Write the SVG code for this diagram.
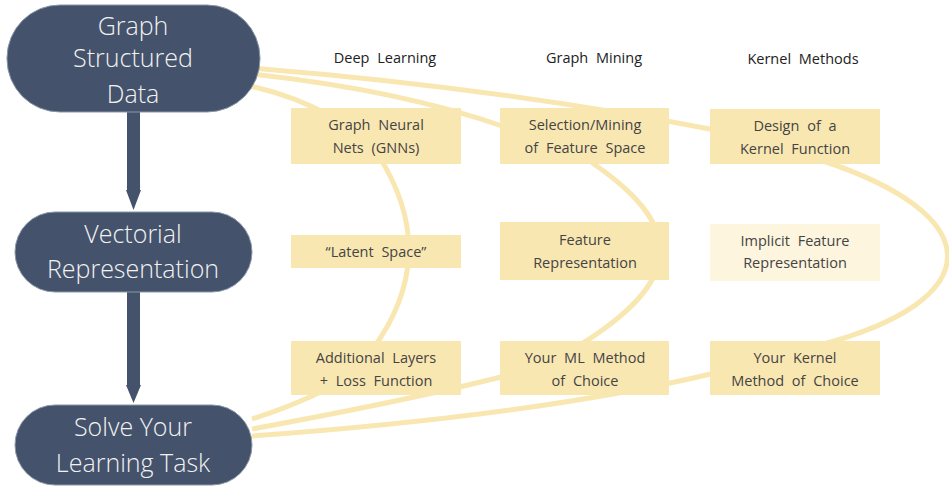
<svg xmlns="http://www.w3.org/2000/svg" width="949" height="487" viewBox="0 0 949 487">
<style>
.node{fill:#44536b;stroke:#8a97a8;stroke-width:1}
.nt{font-family:"Open Sans","Noto Sans",sans-serif;font-weight:300;font-size:25px;fill:#f2f2f2;text-anchor:middle}
.box{fill:#f9e7b2}
.box2{fill:#fdf5de}
.bt{font-family:"Open Sans","Noto Sans",sans-serif;font-size:14.5px;fill:#444;text-anchor:middle;word-spacing:4px}
.hd{font-family:"Open Sans","Noto Sans",sans-serif;font-size:14.5px;fill:#222;text-anchor:middle;word-spacing:4px}
.con{fill:none;stroke:#f9e7b2;stroke-width:5}
.arr{fill:#44536b}
</style>
<g id="connectors">
<path class="con" d="M250 86 Q295 96 330 116"/>
<path class="con" d="M378 155 C420 220 420 285 372 350"/>
<path class="con" d="M252 419 Q290 407 325 390"/>
<path class="con" d="M252 74 Q400 90 505 127"/>
<path class="con" d="M585 158 C687 225 687 280 575 348"/>
<path class="con" d="M252 429 Q410 400 505 376"/>
<path class="con" d="M252 68 Q500 88 715 130"/>
<path class="con" d="M820 160 C990 215 990 300 820 345"/>
<path class="con" d="M252 436 Q540 415 715 373"/>
<path class="arr" d="M127 112 H140 V190 H141 L133.5 210 L126 190 H127 Z"/>
<path class="arr" d="M127 292 H140 V385 H141 L133.5 403 L126 385 H127 Z"/>
</g>
<g id="graph-data">
<rect class="node" x="7" y="5" width="253" height="107" rx="53"/>
<text class="nt" x="133" y="35">Graph</text>
<text class="nt" x="133" y="67">Structured</text>
<text class="nt" x="133" y="103">Data</text>
</g>
<g id="vectorial">
<rect class="node" x="15" y="212" width="237" height="80" rx="40"/>
<text class="nt" x="133" y="243">Vectorial</text>
<text class="nt" x="133" y="278">Representation</text>
</g>
<g id="solve">
<rect class="node" x="15" y="405" width="237" height="80" rx="40"/>
<text class="nt" x="133" y="436">Solve Your</text>
<text class="nt" x="133" y="472">Learning Task</text>
</g>
<g id="headers">
<text class="hd" x="385" y="63">Deep Learning</text>
<text class="hd" x="594" y="63">Graph Mining</text>
<text class="hd" x="803" y="64">Kernel Methods</text>
</g>
<g id="gnn">
<rect class="box" x="291" y="108" width="170" height="56"/>
<text class="bt" x="376" y="130">Graph Neural</text>
<text class="bt" x="376" y="153">Nets (GNNs)</text>
</g>
<g id="latent">
<rect class="box" x="291" y="235" width="170" height="33"/>
<text class="bt" x="376" y="257">“Latent Space”</text>
</g>
<g id="additional">
<rect class="box" x="291" y="341" width="170" height="54"/>
<text class="bt" x="376" y="363">Additional Layers</text>
<text class="bt" x="376" y="386">+ Loss Function</text>
</g>
<g id="selection">
<rect class="box" x="500" y="108" width="169" height="56"/>
<text class="bt" x="585" y="130">Selection/Mining</text>
<text class="bt" x="585" y="153">of Feature Space</text>
</g>
<g id="feature">
<rect class="box" x="500" y="222" width="169" height="58"/>
<text class="bt" x="585" y="245">Feature</text>
<text class="bt" x="585" y="268">Representation</text>
</g>
<g id="your-ml">
<rect class="box" x="500" y="341" width="169" height="54"/>
<text class="bt" x="585" y="363">Your ML Method</text>
<text class="bt" x="585" y="386">of Choice</text>
</g>
<g id="design">
<rect class="box" x="710" y="109" width="170" height="55"/>
<text class="bt" x="795" y="131">Design of a</text>
<text class="bt" x="795" y="154">Kernel Function</text>
</g>
<g id="implicit">
<rect class="box2" x="710" y="224" width="170" height="57"/>
<text class="bt" x="795" y="246">Implicit Feature</text>
<text class="bt" x="795" y="268">Representation</text>
</g>
<g id="your-kernel">
<rect class="box" x="710" y="341" width="170" height="54"/>
<text class="bt" x="795" y="363">Your Kernel</text>
<text class="bt" x="795" y="386">Method of Choice</text>
</g>
</svg>
